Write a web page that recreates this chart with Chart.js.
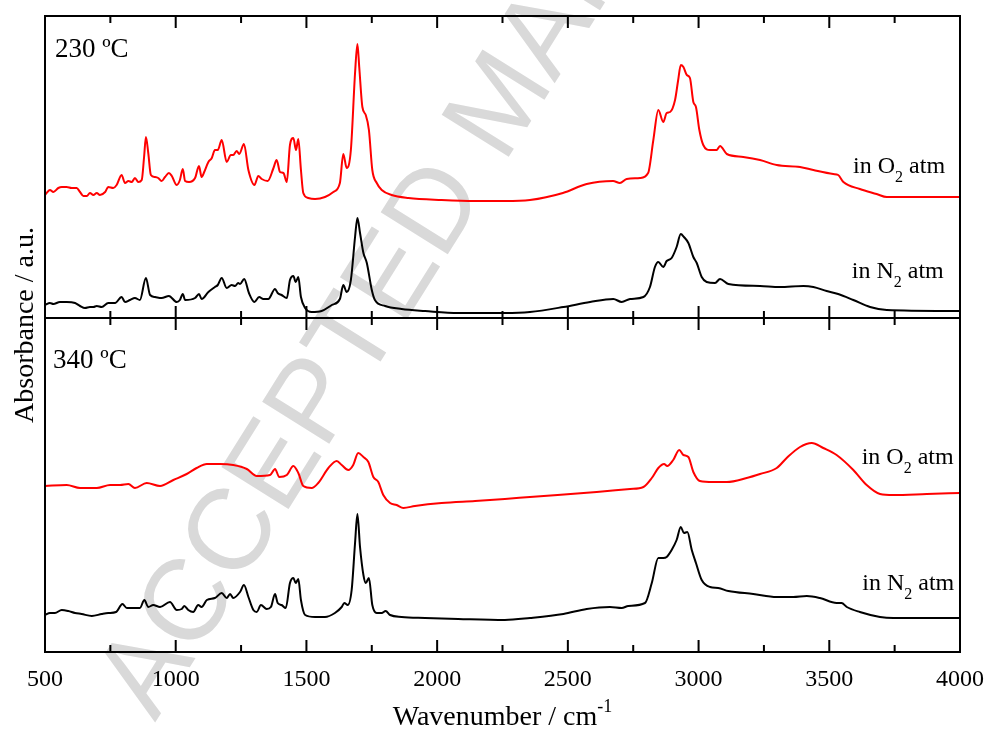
<!DOCTYPE html>
<html>
<head>
<meta charset="utf-8">
<script src="https://cdn.jsdelivr.net/npm/chart.js@4.4.0/dist/chart.umd.min.js"></script>
<style>
  html, body { margin: 0; padding: 0; background: #fff; }
</style>
</head>
<body>
<canvas id="chartFTIR" width="987" height="729"></canvas>
<script>
// FTIR spectra, wavenumber (cm-1) and absorbance (a.u., offset as in the figure)

// 230 ºC, in O2 (top panel, red)
var wn230O2 = [500,519,532,551,564,583,602,621,634,647,660,672,685,698,710,730,742,761,774,793,
  806,819,832,844,857,870,879,886,895,905,921,933,946,959,974,985,1004,1016,1027,1036,
  1051,1074,1089,1099,1109,1125,1138,1150,1161,1176,1195,1211,1220,1233,1243,1261,1278,1301,1316,1329,
  1352,1374,1386,1399,1412,1425,1437,1450,1460,1469,1479,1488,1507,1533,1571,1603,1628,1641,1654,1670,
  1686,1695,1702,1714,1727,1739,1752,1769,1788,1826,1890,2017,2145,2259,2355,2481,2572,2673,2699,2725,
  2776,2807,2827,2846,2865,2878,2891,2910,2922,2932,2942,2955,2967,2980,2990,3003,3018,3044,3069,3082,
  3108,3171,3235,3299,3388,3439,3515,3534,3554,3617,3681,3720,4000];
var abs230O2 = [1.23,1.28,1.26,1.30,1.31,1.31,1.30,1.30,1.26,1.22,1.22,1.25,1.23,1.25,1.23,1.26,1.31,1.30,1.33,1.43,
  1.35,1.37,1.36,1.40,1.36,1.38,1.61,1.81,1.65,1.43,1.41,1.40,1.37,1.41,1.45,1.42,1.33,1.38,1.49,1.37,
  1.36,1.40,1.52,1.41,1.46,1.56,1.60,1.68,1.68,1.78,1.56,1.63,1.63,1.67,1.64,1.74,1.48,1.33,1.42,1.39,
  1.37,1.50,1.58,1.46,1.45,1.36,1.73,1.80,1.68,1.79,1.48,1.25,1.20,1.19,1.21,1.26,1.35,1.64,1.50,1.68,
  2.45,2.74,2.51,2.11,2.03,1.88,1.48,1.35,1.28,1.23,1.20,1.18,1.17,1.17,1.18,1.25,1.34,1.37,1.35,1.39,
  1.40,1.45,1.78,2.08,1.96,2.05,2.06,2.18,2.38,2.53,2.51,2.43,2.40,2.16,2.11,1.88,1.73,1.68,1.68,1.72,
  1.64,1.61,1.58,1.53,1.51,1.48,1.44,1.43,1.36,1.29,1.24,1.21,1.21];

// 230 ºC, in N2 (top panel, black)
var wn230N2 = [500,519,532,557,583,615,634,653,672,685,698,717,742,768,793,806,825,844,863,886,
  902,921,946,974,1004,1016,1027,1036,1074,1089,1099,1125,1150,1161,1176,1195,1214,1227,1239,1246,
  1262,1280,1301,1319,1335,1354,1380,1390,1405,1425,1437,1450,1459,1469,1479,1495,1520,1558,1597,1628,
  1641,1654,1670,1686,1695,1705,1718,1731,1750,1762,1801,1864,1954,2081,2259,2355,2483,2585,2674,2706,
  2738,2789,2814,2833,2846,2865,2878,2897,2916,2932,2944,2961,2980,2993,3012,3031,3063,3082,3114,3235,
  3311,3401,3439,3490,3534,3592,3656,3720,4000];
var abs230N2 = [0.13,0.15,0.14,0.16,0.16,0.15,0.12,0.10,0.11,0.11,0.12,0.11,0.15,0.15,0.21,0.16,0.18,0.20,0.18,0.40,
  0.23,0.21,0.20,0.22,0.16,0.18,0.24,0.18,0.20,0.24,0.19,0.26,0.31,0.33,0.40,0.30,0.33,0.32,0.35,0.34,
  0.39,0.25,0.16,0.21,0.19,0.19,0.29,0.25,0.23,0.20,0.38,0.42,0.36,0.41,0.21,0.10,0.06,0.07,0.13,0.19,
  0.33,0.26,0.38,0.81,1.00,0.85,0.65,0.55,0.28,0.18,0.12,0.09,0.07,0.05,0.05,0.06,0.11,0.16,0.19,0.16,
  0.19,0.21,0.31,0.51,0.56,0.51,0.57,0.60,0.71,0.84,0.81,0.75,0.61,0.55,0.41,0.36,0.35,0.39,0.34,0.32,
  0.31,0.32,0.31,0.27,0.24,0.18,0.11,0.08,0.07];

// 340 ºC, in O2 (bottom panel, red)
var wn340O2 = [500,583,634,698,749,787,819,844,889,940,991,1042,1080,1119,1169,1220,1272,1310,1361,1380,
  1396,1425,1450,1469,1488,1520,1545,1584,1616,1635,1660,1679,1698,1718,1737,1756,1775,1794,1820,1845,
  1871,1915,2017,2145,2259,2355,2610,2738,2789,2821,2846,2868,2880,2903,2926,2942,2961,2980,3005,3056,
  3108,3184,3235,3299,3337,3388,3433,3477,3528,3592,3643,3694,3745,3873,4000];
var abs340O2 = [1.66,1.67,1.64,1.64,1.67,1.67,1.68,1.64,1.69,1.66,1.72,1.78,1.84,1.88,1.88,1.87,1.83,1.76,1.77,1.83,
  1.75,1.77,1.86,1.79,1.66,1.64,1.69,1.84,1.91,1.87,1.82,1.87,1.99,1.95,1.90,1.75,1.70,1.57,1.49,1.47,
  1.44,1.46,1.49,1.51,1.53,1.55,1.60,1.63,1.65,1.74,1.84,1.88,1.86,1.92,2.02,1.97,1.95,1.80,1.71,1.70,
  1.70,1.74,1.78,1.84,1.94,2.05,2.09,2.04,1.97,1.82,1.67,1.58,1.57,1.58,1.59];

// 340 ºC, in N2 (bottom panel, black)
var wn340N2 = [500,519,538,564,589,615,640,679,717,742,772,796,813,838,863,880,895,914,940,978,
  1004,1023,1033,1048,1067,1086,1099,1119,1150,1176,1195,1208,1220,1246,1261,1278,1297,1310,1326,1348,
  1364,1380,1390,1405,1421,1437,1450,1459,1469,1479,1495,1533,1571,1609,1635,1645,1658,1673,1686,1695,
  1705,1718,1727,1739,1752,1769,1788,1803,1820,1864,1954,2081,2259,2355,2483,2572,2661,2706,2731,2795,
  2821,2846,2865,2878,2897,2916,2932,2944,2957,2974,2990,3012,3044,3075,3114,3209,3299,3362,3414,3464,
  3528,3547,3567,3617,3694,3745,4000];
var abs340N2 = [0.37,0.39,0.39,0.42,0.41,0.39,0.38,0.36,0.38,0.39,0.40,0.48,0.44,0.44,0.44,0.52,0.45,0.47,0.45,0.50,
  0.42,0.43,0.46,0.42,0.40,0.47,0.45,0.52,0.54,0.59,0.54,0.58,0.54,0.60,0.67,0.55,0.42,0.40,0.47,0.43,
  0.45,0.58,0.49,0.47,0.44,0.69,0.74,0.69,0.73,0.52,0.37,0.35,0.35,0.39,0.45,0.49,0.47,0.62,1.09,1.38,
  1.05,0.77,0.69,0.74,0.47,0.39,0.39,0.41,0.37,0.35,0.34,0.33,0.32,0.34,0.38,0.43,0.45,0.44,0.46,0.49,
  0.69,0.94,0.94,0.95,1.02,1.12,1.25,1.19,1.20,1.02,0.89,0.72,0.65,0.64,0.61,0.58,0.55,0.55,0.56,0.54,
  0.49,0.49,0.45,0.40,0.35,0.34,0.34];

// axis range and ticks
var xMin = 500, xMax = 4000, xStep = 250, xLabelStep = 500;
var yTopMax = 3.02, yBotMax = 3.34;

var serif = "'Liberation Serif', 'Times New Roman', serif";

function toPoints(wn, ab) {
  return wn.map(function (w, i) { return { x: w, y: ab[i] }; });
}

function lineSet(label, wn, ab, color, axis) {
  return {
    label: label,
    data: toPoints(wn, ab),
    yAxisID: axis,
    borderColor: color,
    borderWidth: 2,
    pointRadius: 0,
    fill: false,
    cubicInterpolationMode: 'monotone'
  };
}

// text with sub/superscript pieces: [text, size, shift]
function drawParts(c, x, y, parts, align) {
  var total = 0;
  parts.forEach(function (p) {
    c.font = p[1] + 'px ' + serif;
    total += c.measureText(p[0]).width;
  });
  var cx = align === 'center' ? x - total / 2 : x;
  c.textAlign = 'left';
  c.textBaseline = 'alphabetic';
  parts.forEach(function (p) {
    c.font = p[1] + 'px ' + serif;
    c.fillText(p[0], cx, y + p[2]);
    cx += c.measureText(p[0]).width;
  });
}

var framePlugin = {
  id: 'frame',
  beforeDraw: function (chart) {
    var c = chart.ctx;
    c.save();
    c.fillStyle = '#fff';
    c.fillRect(0, 0, chart.width, chart.height);
    // watermark
    c.translate(128, 706);
    c.rotate(-58 * Math.PI / 180);
    c.font = "115px 'Liberation Sans', Arial, sans-serif";
    c.fillStyle = '#d9d9d9';
    c.textBaseline = 'middle';
    c.fillText('ACCEPTED MANUSCRIPT', 0, 0);
    c.restore();
  },
  afterDatasetsDraw: function (chart) {
    var c = chart.ctx;
    var x = chart.scales.x, yt = chart.scales.yTop, yb = chart.scales.yBot;
    c.save();
    c.strokeStyle = '#000';
    c.lineWidth = 2;
    c.strokeRect(x.left, yt.top, x.right - x.left, yt.bottom - yt.top);
    c.strokeRect(x.left, yb.top, x.right - x.left, yb.bottom - yb.top);

    // inward ticks on every horizontal border
    var edges = [[yt.top, 1], [yt.bottom, -1], [yb.top, 1], [yb.bottom, -1]];
    c.beginPath();
    x.ticks.forEach(function (t) {
      var px = x.getPixelForValue(t.value);
      var len = (t.value % xLabelStep === 0) ? 12 : 7;
      edges.forEach(function (e) {
        c.moveTo(px, e[0]);
        c.lineTo(px, e[0] + e[1] * len);
      });
    });
    c.stroke();

    c.fillStyle = '#000';
    // panel labels
    drawParts(c, x.getPixelForValue(538), yt.getPixelForValue(2.61), [['230 ºC', 27, 0]]);
    drawParts(c, x.getPixelForValue(531), yb.getPixelForValue(2.84), [['340 ºC', 27, 0]]);
    drawParts(c, x.getPixelForValue(3591), yt.getPixelForValue(1.45), [['in O', 24, 0], ['2', 16, 9], [' atm', 24, 0]]);
    drawParts(c, x.getPixelForValue(3586), yt.getPixelForValue(0.40), [['in N', 24, 0], ['2', 16, 9], [' atm', 24, 0]]);
    drawParts(c, x.getPixelForValue(3624), yb.getPixelForValue(1.88), [['in O', 24, 0], ['2', 16, 9], [' atm', 24, 0]]);
    drawParts(c, x.getPixelForValue(3626), yb.getPixelForValue(0.62), [['in N', 24, 0], ['2', 16, 9], [' atm', 24, 0]]);

    // axis titles
    drawParts(c, (x.left + x.right) / 2, 725, [['Wavenumber / cm', 28, 0], ['-1', 18, -13]], 'center');
    c.translate(33, (yt.top + yb.bottom) / 2 - 9);
    c.rotate(-Math.PI / 2);
    drawParts(c, 0, 0, [['Absorbance / a.u.', 28, 0]], 'center');
    c.restore();
  }
};

var ctx = document.getElementById('chartFTIR').getContext('2d');

var myChart = new Chart(ctx, {
  type: 'line',
  data: {
    datasets: [
      lineSet('230 ºC in O2', wn230O2, abs230O2, '#ff0000', 'yTop'),
      lineSet('230 ºC in N2', wn230N2, abs230N2, '#000000', 'yTop'),
      lineSet('340 ºC in O2', wn340O2, abs340O2, '#ff0000', 'yBot'),
      lineSet('340 ºC in N2', wn340N2, abs340N2, '#000000', 'yBot')
    ]
  },
  options: {
    responsive: false,
    animation: false,
    devicePixelRatio: 1,
    layout: { padding: { left: 45, right: 27, top: 16, bottom: 0 } },
    plugins: {
      legend: { display: false },
      tooltip: { enabled: false }
    },
    scales: {
      x: {
        type: 'linear',
        position: 'bottom',
        min: xMin,
        max: xMax,
        grid: { display: false },
        border: { display: false },
        ticks: {
          stepSize: xStep,
          autoSkip: false,
          maxRotation: 0,
          padding: 5,
          color: '#000',
          font: { family: serif, size: 24 },
          callback: function (v) { return v % xLabelStep === 0 ? v : ''; }
        },
        afterFit: function (s) {
          s.height = 77;
          s.paddingLeft = 0;
          s.paddingRight = 0;
        }
      },
      yTop: {
        type: 'linear',
        position: 'left',
        stack: 'panels',
        stackWeight: yTopMax,
        weight: 2,
        min: 0,
        max: yTopMax,
        display: false
      },
      yBot: {
        type: 'linear',
        position: 'left',
        stack: 'panels',
        stackWeight: yBotMax,
        weight: 1,
        min: 0,
        max: yBotMax,
        display: false
      }
    }
  },
  plugins: [framePlugin]
});
</script>
</body>
</html>
